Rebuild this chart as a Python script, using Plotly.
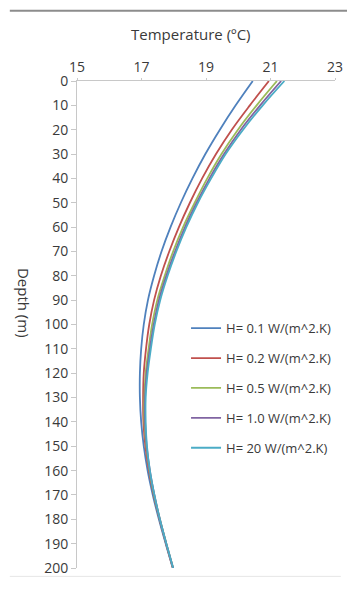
import plotly.graph_objects as go

depth = [0, 10, 20, 30, 40, 50, 60, 70, 80, 90, 100, 110, 120, 130, 140, 150, 160, 170, 180, 190, 200]

t_h01 = [20.45, 19.92, 19.43, 18.98, 18.58, 18.22, 17.90, 17.62, 17.39, 17.20, 17.07,
         16.99, 16.95, 16.95, 16.99, 17.07, 17.19, 17.35, 17.54, 17.75, 17.97]
t_h02 = [20.95, 20.36, 19.80, 19.31, 18.88, 18.50, 18.16, 17.86, 17.60, 17.39, 17.24,
         17.14, 17.07, 17.05, 17.06, 17.12, 17.23, 17.38, 17.56, 17.76, 17.97]
t_h05 = [21.20, 20.57, 19.99, 19.48, 19.04, 18.65, 18.29, 17.98, 17.72, 17.49, 17.33,
         17.22, 17.13, 17.09, 17.09, 17.15, 17.25, 17.39, 17.57, 17.77, 17.98]
t_h10 = [21.33, 20.68, 20.08, 19.56, 19.11, 18.71, 18.35, 18.04, 17.77, 17.54, 17.38,
         17.26, 17.16, 17.11, 17.11, 17.16, 17.26, 17.40, 17.57, 17.77, 17.98]
t_h20 = [21.43, 20.76, 20.15, 19.61, 19.16, 18.75, 18.39, 18.08, 17.81, 17.58, 17.41,
         17.29, 17.19, 17.13, 17.13, 17.17, 17.26, 17.40, 17.57, 17.77, 17.98]

series_names = ["H= 0.1 W/(m^2.K)", "H= 0.2 W/(m^2.K)", "H= 0.5 W/(m^2.K)",
                "H= 1.0 W/(m^2.K)", "H= 20 W/(m^2.K)"]
series_vals = [t_h01, t_h02, t_h05, t_h10, t_h20]
colors = ["#4F81BD", "#C0504D", "#9BBB59", "#8064A2", "#4BACC6"]

x_ticks = [15, 17, 19, 21, 23]
y_ticks = list(range(0, 201, 10))

FONT = "Open Sans"
TXT = "#3A3A3A"

fig = go.Figure()
for i, (name, vals, c) in enumerate(zip(series_names, series_vals, colors)):
    fig.add_trace(go.Scatter(
        x=vals, y=depth, mode="lines", name=name,
        line=dict(color=c, width=1.8, shape="spline", smoothing=1.0),
        legendgroup=f"g{i}",
    ))

# page body has an 8px margin, so the figure is sized to fit inside the window
OFF = 8
W, H = 355 - OFF, 589 - OFF
L, R, T, B = 77 - OFF, 13, 81 - OFF, 13
pw, ph = W - L - R, H - T - B

def px_x(px):  # page pixel -> paper
    return (px - OFF - L) / pw

def px_y(py):
    return (H - B - (py - OFF)) / ph

fig.update_layout(
    width=W, height=H,
    margin=dict(l=L, r=R, t=T, b=B),
    paper_bgcolor="white", plot_bgcolor="white",
    font=dict(family=FONT, size=14, color=TXT),
    showlegend=True,
    legend=dict(
        x=px_x(189), y=px_y(317), xanchor="left", yanchor="top",
        bgcolor="rgba(255,255,255,0)", font=dict(size=13, color=TXT),
        tracegroupgap=10, itemwidth=30,
    ),
    xaxis=dict(
        side="top", range=[15, 23], tickvals=x_ticks, ticktext=[str(v) for v in x_ticks],
        showgrid=False, zeroline=False, showline=True, linecolor="#C8C8C8", linewidth=1,
        ticks="outside", ticklen=2, tickcolor="#C8C8C8",
        tickfont=dict(size=14, color=TXT),
    ),
    yaxis=dict(
        range=[200, 0], tickvals=y_ticks, ticktext=[str(v) for v in y_ticks],
        showgrid=False, zeroline=False, showline=True, linecolor="#C8C8C8", linewidth=1,
        ticks="outside", ticklen=5, tickcolor="#C8C8C8",
        tickfont=dict(size=14, color=TXT),
    ),
    annotations=[
        dict(text="Temperature (ºC)", x=px_x(194), y=px_y(33), xref="paper", yref="paper",
             showarrow=False, font=dict(size=15, color=TXT), xanchor="center", yanchor="middle"),
        dict(text="Depth (m)", x=px_x(22), y=px_y(307), xref="paper", yref="paper",
             showarrow=False, textangle=90, font=dict(size=15, color=TXT),
             xanchor="center", yanchor="middle"),
    ],
    shapes=[
        dict(type="line", xref="paper", yref="paper", x0=px_x(8), x1=px_x(355),
             y0=px_y(9.5), y1=px_y(9.5), line=dict(color="#8C8C8C", width=2)),
        dict(type="line", xref="paper", yref="paper", x0=px_x(8), x1=px_x(348),
             y0=px_y(584.5), y1=px_y(584.5), line=dict(color="#E6E6E6", width=1)),
    ],
)

fig.write_html("out.html")
